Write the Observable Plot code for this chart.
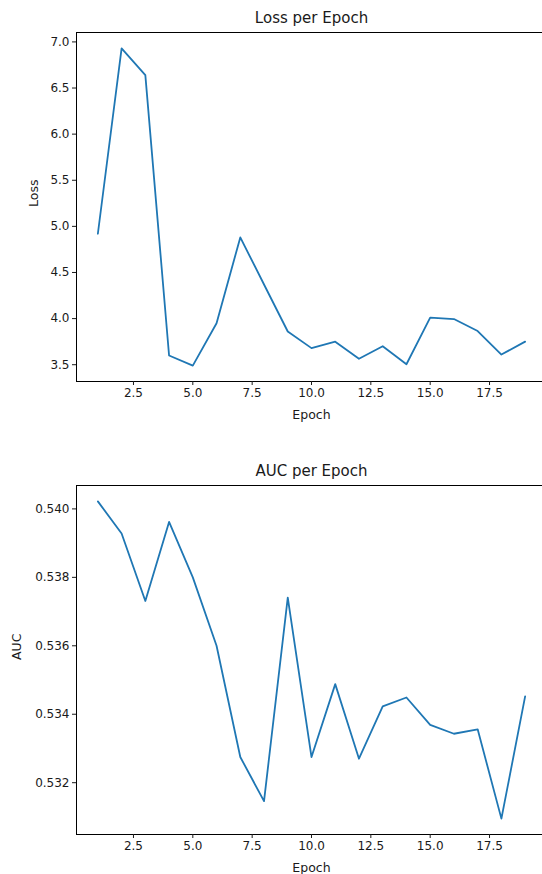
<!DOCTYPE html>
<html>
<head>
<meta charset="utf-8">
<script src="https://cdn.jsdelivr.net/npm/d3@7"></script>
<script src="https://cdn.jsdelivr.net/npm/@observablehq/plot@0.6"></script>
<style>
  html, body { margin: 0; padding: 0; background: #fff; overflow: hidden; width: 542px; height: 874px; }
  #c1, #c2 { position: absolute; left: 0; }
  #c1 { top: 0; }
  #c2 { top: 437px; }
  svg { overflow: visible; font-family: "DejaVu Sans", sans-serif; }
</style>
</head>
<body>
<div id="c1"></div>
<div id="c2"></div>
<script>
const epochs = [1,2,3,4,5,6,7,8,9,10,11,12,13,14,15,16,17,18,19];
const loss = [4.92, 6.93, 6.64, 3.60, 3.49, 3.95, 4.88, 4.37, 3.86, 3.68, 3.75, 3.565, 3.70, 3.505, 4.01, 3.995, 3.865, 3.61, 3.75];
const auc = [0.54022, 0.53928, 0.53731, 0.53962, 0.5380, 0.5360, 0.53275, 0.53146, 0.53741, 0.53275, 0.53488, 0.5327, 0.53423, 0.53449, 0.53369, 0.53343, 0.53356, 0.53095, 0.53452];
const xTicks = [2.5, 5.0, 7.5, 10.0, 12.5, 15.0, 17.5];
const lossTicks = [3.5, 4.0, 4.5, 5.0, 5.5, 6.0, 6.5, 7.0];
const aucTicks = [0.532, 0.534, 0.536, 0.538, 0.540];
const titles = ["Loss per Epoch", "AUC per Epoch"];
const yLabels = ["Loss", "AUC"];
const xLabel = "Epoch";

function padded(ext) {
  const m = (ext[1] - ext[0]) * 0.05;
  return [ext[0] - m, ext[1] + m];
}

function chart({values, yTicks, yFmt, title, yLabel, marginTop, marginBottom, yLabelDx}) {
  const data = epochs.map((e, i) => ({epoch: e, v: values[i]}));
  const xd = padded(d3.extent(epochs));
  return Plot.plot({
    width: 542,
    height: 437,
    marginLeft: 76,
    marginRight: -4,
    marginTop,
    marginBottom,
    style: {fontFamily: "DejaVu Sans, sans-serif", fontSize: "12px", color: "#1a1a1a", background: "#fff"},
    x: {domain: xd},
    y: {domain: padded(d3.extent(values))},
    marks: [
      Plot.line(data, {x: "epoch", y: "v", stroke: "#1f77b4", strokeWidth: 1.8}),
      Plot.frame({stroke: "#000", strokeWidth: 1}),
      Plot.axisX({ticks: xTicks, tickFormat: d3.format(".1f"), tickSize: 4, tickPadding: 3, label: null, fontSize: 12}),
      Plot.axisY({ticks: yTicks, tickFormat: d3.format(yFmt), tickSize: 4, tickPadding: 3, label: null, fontSize: 12}),
      Plot.text([title], {frameAnchor: "top", dy: -9.5, lineAnchor: "bottom", text: d => d, fontSize: 15, fill: "#1a1a1a"}),
      Plot.text([yLabel], {frameAnchor: "left", dx: yLabelDx, rotate: -90, lineAnchor: "middle", text: d => d, fontSize: 12.5, fill: "#1a1a1a"}),
      Plot.text([xLabel], {frameAnchor: "bottom", dy: 33, lineAnchor: "middle", text: d => d, fontSize: 12.5, fill: "#1a1a1a"})
    ]
  });
}

document.getElementById("c1").append(chart({values: loss, yTicks: lossTicks, yFmt: ".1f", title: titles[0], yLabel: yLabels[0], marginTop: 32, marginBottom: 56, yLabelDx: -43}));
document.getElementById("c2").append(chart({values: auc, yTicks: aucTicks, yFmt: ".3f", title: titles[1], yLabel: yLabels[1], marginTop: 48, marginBottom: 40, yLabelDx: -60}));
</script>
</body>
</html>
